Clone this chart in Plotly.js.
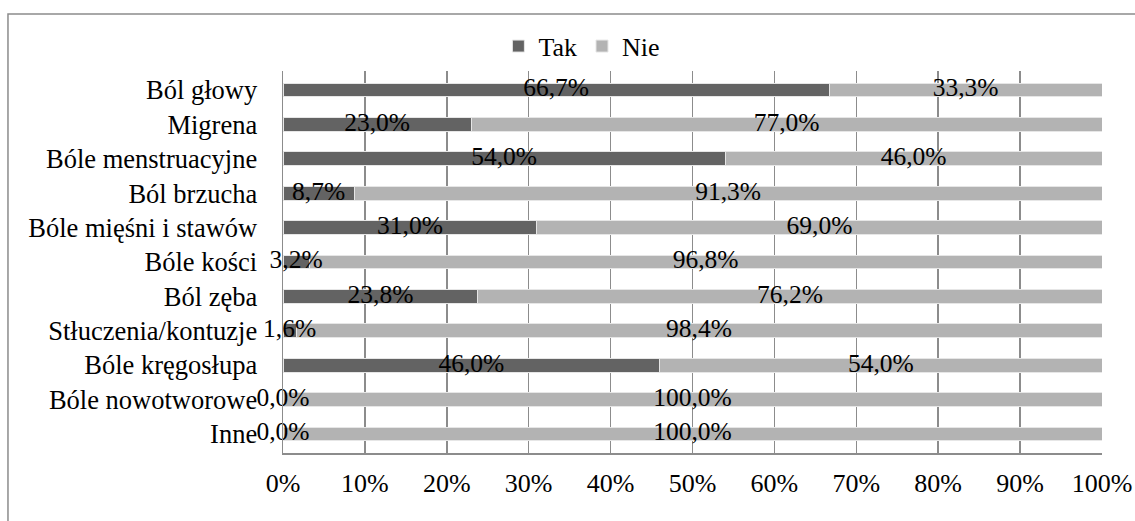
<!DOCTYPE html>
<html>
<head>
<meta charset="utf-8">
<script src="https://cdn.plot.ly/plotly-3.0.1.min.js"></script>
<style>html,body{margin:0;padding:0;background:#fff;}#chart{width:1135px;height:521px;}</style>
</head>
<body>
<div id="chart"></div>
<script>
const categories = ['Ból głowy','Migrena','Bóle menstruacyjne','Ból brzucha','Bóle mięśni i stawów','Bóle kości','Ból zęba','Stłuczenia/kontuzje','Bóle kręgosłupa','Bóle nowotworowe','Inne'];
const tak = [66.7, 23.0, 54.0, 8.7, 31.0, 3.2, 23.8, 1.6, 46.0, 0.0, 0.0];
const nie = [33.3, 77.0, 46.0, 91.3, 69.0, 96.8, 76.2, 98.4, 54.0, 100.0, 100.0];
const xTicks = [0,10,20,30,40,50,60,70,80,90,100];

const fmt = v => v.toFixed(1).replace('.', ',') + '%';
const FONT = 'Liberation Serif';

const traces = [
  {type:'bar', orientation:'h', name:'Tak', y:categories, x:tak,
   marker:{color:'#636363', line:{color:'#e6e6e6', width:1}}, textposition:'none', hoverinfo:'x+y'},
  {type:'bar', orientation:'h', name:'Nie', y:categories, x:nie,
   marker:{color:'#b3b3b3', line:{color:'#e6e6e6', width:1}}, textposition:'none', hoverinfo:'x+y'},
  {type:'scatter', mode:'text', showlegend:false, y:categories,
   x:tak.map(v => v/2), text:tak.map(fmt), textposition:'middle center',
   textfont:{family:FONT, size:25.5, color:'#000'}, cliponaxis:false, hoverinfo:'skip'},
  {type:'scatter', mode:'text', showlegend:false, y:categories,
   x:nie.map((v,i) => tak[i] + v/2), text:nie.map(fmt), textposition:'middle center',
   textfont:{family:FONT, size:25.5, color:'#000'}, cliponaxis:false, hoverinfo:'skip'}
];

const layout = {
  width:1135, height:521,
  margin:{l:283, r:33, t:71, b:68, pad:0},
  paper_bgcolor:'#fff', plot_bgcolor:'#fff',
  font:{family:FONT, size:26, color:'#000'},
  barmode:'stack', bargap:0.6,
  showlegend:true,
  legend:{orientation:'h', traceorder:'normal', x:0.263, xanchor:'left', y:1.065, yanchor:'middle',
          font:{family:FONT, size:26, color:'#000'}, itemwidth:30, tracegroupgap:0, bgcolor:'rgba(0,0,0,0)'},
  xaxis:{range:[0,100], tickvals:xTicks, ticktext:xTicks.map(v => v + '%'),
         showgrid:true, gridcolor:'#8c8c8c', gridwidth:1.5,
         showline:true, linecolor:'#8c8c8c', linewidth:1.5, zeroline:false,
         ticks:'', ticklabelstandoff:6, tickfont:{family:FONT, size:26, color:'#000'}, fixedrange:true},
  yaxis:{autorange:'reversed', type:'category', showgrid:false,
         showline:true, linecolor:'#8c8c8c', linewidth:1.5, zeroline:false,
         ticks:'', ticklabelstandoff:19, tickfont:{family:FONT, size:26.5, color:'#000'}, fixedrange:true},
  shapes:[{type:'rect', xref:'paper', yref:'paper', x0:-0.3358, x1:1.2, y0:-0.3, y1:1.1492,
           line:{color:'#8c8c8c', width:1.5}, fillcolor:'rgba(0,0,0,0)', layer:'below'}]
};

Plotly.newPlot('chart', traces, layout, {displayModeBar:false, staticPlot:true});
</script>
</body>
</html>
